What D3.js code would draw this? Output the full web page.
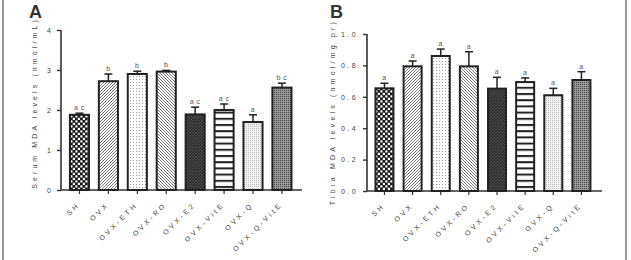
<!DOCTYPE html>
<html><head><meta charset="utf-8">
<script src="https://cdn.jsdelivr.net/npm/d3@7"></script>
<style>body{margin:0;background:#fff}svg{display:block}text{font-family:"Liberation Sans",Arial,sans-serif}</style>
</head><body><svg id="c" width="631" height="260"></svg>
<script>
const categories = ["SH","OVX","OVX-ETH","OVX-RO","OVX-E2","OVX-VitE","OVX-Q","OVX-Q-VitE"];
const serumValues = [1.88,2.72,2.90,2.96,1.89,2.00,1.70,2.56];
const serumErrors = [0.04,0.18,0.07,0.03,0.18,0.15,0.18,0.11];
const serumLetters = ["a c","b","b","b","a c","a c","a","b c"];
const tibiaValues = [0.654,0.794,0.860,0.794,0.652,0.694,0.610,0.707];
const tibiaErrors = [0.032,0.034,0.044,0.093,0.072,0.026,0.044,0.053];
const tibiaLetters = ["a","a","a","a","a","a","a","a"];
const serumTicks = [0,1,2,3,4];
const tibiaTicks = [0,0.2,0.4,0.6,0.8,1.0];
const patternIds = ["pSH","pOVX","pETH","pRO","pE2","pVITE","pQ","pQVITE"];

const svg = d3.select("#c");
const defs = svg.append("defs");
function pat(id,w,h,draw){const p=defs.append("pattern").attr("id",id).attr("patternUnits","userSpaceOnUse").attr("width",w).attr("height",h);draw(p);}
pat("pSH",5,5,p=>{p.append("rect").attr("width",5).attr("height",5).attr("fill","#1a1a1a");
  p.append("rect").attr("x",0.3).attr("y",0.3).attr("width",2.2).attr("height",2.2).attr("fill","#fff");
  p.append("rect").attr("x",2.8).attr("y",2.8).attr("width",2.2).attr("height",2.2).attr("fill","#fff");});
pat("pOVX",3,3,p=>{p.append("rect").attr("width",3).attr("height",3).attr("fill","#fff");
  p.append("path").attr("d","M-1,1 L1,-1 M0,3 L3,0 M2,4 L4,2").attr("stroke","#555").attr("stroke-width",0.8);});
pat("pETH",3,3,p=>{p.append("rect").attr("width",3).attr("height",3).attr("fill","#fff");
  p.append("rect").attr("x",1).attr("y",1).attr("width",0.9).attr("height",0.9).attr("fill","#888");});
pat("pRO",3,3,p=>{p.append("rect").attr("width",3).attr("height",3).attr("fill","#fff");
  p.append("path").attr("d","M-1,2 L1,4 M0,0 L3,3 M2,-1 L4,1").attr("stroke","#555").attr("stroke-width",0.8);});
pat("pE2",3,3,p=>{p.append("rect").attr("width",3).attr("height",3).attr("fill","#2a2a2a");
  p.append("rect").attr("x",0.5).attr("y",0.5).attr("width",1).attr("height",0.8).attr("fill","#aaa");
  p.append("rect").attr("x",2).attr("y",2).attr("width",0.8).attr("height",0.6).attr("fill","#888");});
pat("pVITE",6,6.2,p=>{p.append("rect").attr("width",6).attr("height",6.2).attr("fill","#fff");
  p.append("rect").attr("y",0).attr("width",6).attr("height",2).attr("fill","#222");});
pat("pQ",2,2,p=>{p.append("rect").attr("width",2).attr("height",2).attr("fill","#f2f2f2");
  p.append("rect").attr("width",1).attr("height",1).attr("fill","#bbb");});
pat("pQVITE",2,2,p=>{p.append("rect").attr("width",2).attr("height",2).attr("fill","#9a9a9a");
  p.append("rect").attr("width",1).attr("height",1).attr("fill","#444");});

// frame
svg.append("line").attr("x1",3).attr("x2",3).attr("y1",0).attr("y2",260).attr("stroke","#777").attr("stroke-width",1.5);
svg.append("line").attr("x1",626).attr("x2",626).attr("y1",0).attr("y2",260).attr("stroke","#777").attr("stroke-width",1.5);

function panel(o){
  const x = d3.scaleBand().domain(categories).range(o.xr).paddingInner(o.pad).paddingOuter(o.pad/2);
  const y = d3.scaleLinear().domain(o.dom).range(o.yr);
  const g = svg.append("g");
  // y axis
  const ya = g.append("g").attr("transform",`translate(${o.ax},0)`)
    .call(d3.axisLeft(y).tickValues(o.ticks).tickSize(4).tickFormat(o.fmt));
  ya.select(".domain").attr("stroke","#333").attr("stroke-width",1.6).attr("d",`M0,${o.yr[1]}V${o.yr[0]}`);
  ya.selectAll(".tick line").attr("stroke","#333").attr("stroke-width",1.4);
  ya.selectAll(".tick text").attr("font-size",7).attr("fill","#444").attr("letter-spacing",o.tls).attr("x",o.tlx);
  // x axis
  const xa = g.append("g").attr("transform",`translate(0,${o.yr[0]})`)
    .call(d3.axisBottom(x).tickSize(4).tickFormat(d=>d));
  xa.select(".domain").attr("stroke","#333").attr("stroke-width",1.6).attr("d",`M${o.ax},0H${o.xend}`);
  xa.selectAll(".tick line").attr("stroke","#333").attr("stroke-width",1.2);
  xa.selectAll(".tick text").attr("font-size",7).attr("fill","#444").attr("letter-spacing",2.9)
    .attr("text-anchor","end").attr("dy",0).attr("y",0)
    .attr("transform","translate(1,15) rotate(-45)");
  // bars
  g.selectAll("rect.bar").data(categories).join("rect").attr("class","bar")
    .attr("x",d=>x(d)).attr("width",x.bandwidth())
    .attr("y",(d,i)=>y(o.vals[i])).attr("height",(d,i)=>y(0)-y(o.vals[i]))
    .attr("fill",(d,i)=>`url(#${patternIds[i]})`).attr("stroke","#222").attr("stroke-width",2);
  // error bars
  const eg = g.selectAll("g.err").data(categories).join("g").attr("class","err");
  eg.append("line").attr("x1",d=>x(d)+x.bandwidth()/2).attr("x2",d=>x(d)+x.bandwidth()/2)
    .attr("y1",(d,i)=>y(o.vals[i])).attr("y2",(d,i)=>y(o.vals[i]+o.errs[i])).attr("stroke","#222").attr("stroke-width",1.5);
  eg.append("line").attr("x1",d=>x(d)+x.bandwidth()/2-4).attr("x2",d=>x(d)+x.bandwidth()/2+4)
    .attr("y1",(d,i)=>y(o.vals[i]+o.errs[i])).attr("y2",(d,i)=>y(o.vals[i]+o.errs[i])).attr("stroke","#222").attr("stroke-width",1.5);
  eg.append("text").attr("x",d=>x(d)+x.bandwidth()/2).attr("y",(d,i)=>y(o.vals[i]+o.errs[i])-3)
    .attr("text-anchor","middle").attr("font-size",7).attr("fill","#555").attr("letter-spacing",0.5).text((d,i)=>o.letters[i]);
  // y title
  g.append("text").attr("transform",`translate(${o.tx},${o.ty}) rotate(-90)`).attr("text-anchor","middle")
    .attr("font-size",7).attr("fill","#444").attr("letter-spacing",o.tts).text(o.title);
  // panel letter
  g.append("text").attr("x",o.lx).attr("y",18).attr("font-size",18).attr("font-weight","bold").attr("fill","#333").text(o.letter);
}
panel({xr:[65,296.4],pad:0.34,yr:[190,30],dom:[0,4],ax:61,xend:302,ticks:serumTicks,fmt:d3.format("d"),tls:0,tlx:-10,
  vals:serumValues,errs:serumErrors,letters:serumLetters,title:"Serum MDA levels (nmol/mL)",tts:3.1,tx:37,ty:103,lx:29,letter:"A"});
panel({xr:[370.4,595.5],pad:0.36,yr:[191,34],dom:[0,1],ax:367,xend:602,ticks:tibiaTicks,fmt:d3.format(".1f"),tls:2.4,tlx:-9,
  vals:tibiaValues,errs:tibiaErrors,letters:tibiaLetters,title:"Tibia MDA levels (nmol/mg pr)",tts:3.2,tx:335,ty:112,lx:330,letter:"B"});
</script></body></html>
